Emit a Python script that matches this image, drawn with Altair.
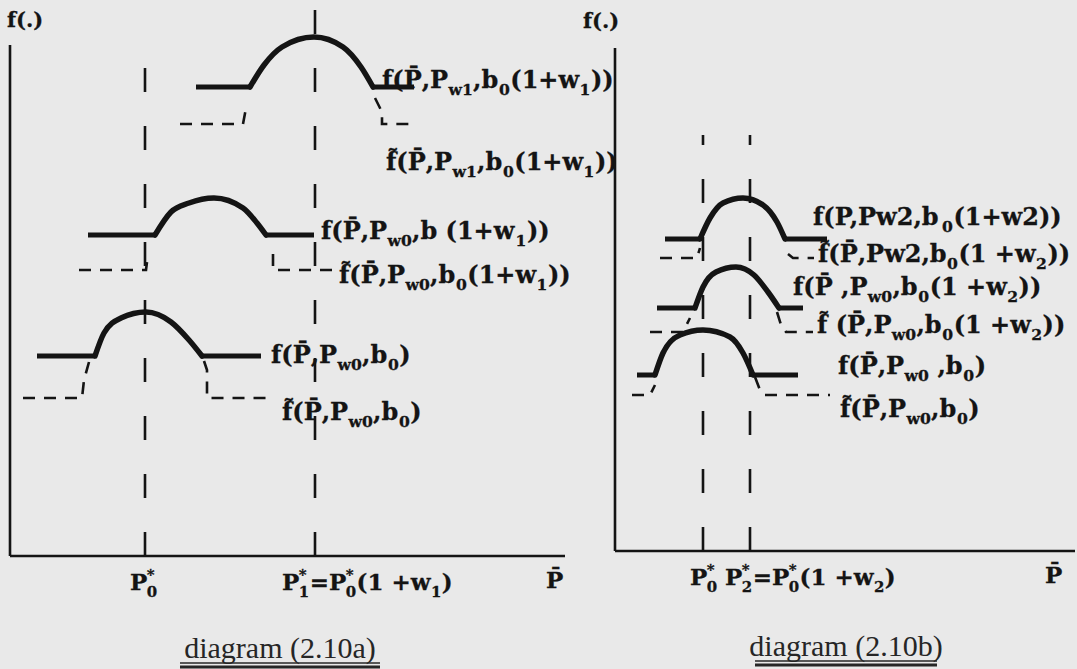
import unicodedata

import altair as alt
import pandas as pd

INK = "#141414"
BG = "#e9e9e9"
FACE = "'DejaVu Serif', serif"
SERIF = "'Liberation Serif', 'DejaVu Serif', serif"
PPU = 10.0          # pixels per data unit, both axes, both panels
LABEL_FS = 24
TICK_FS = 23
AXIS_NAME_FS = 21
CAPTION_FS = 30
HEIGHT = 669

# advance widths (em) of the bold serif face, used to place sub/superscripts
ADVANCE = {" ": 0.348, "(": 0.457, ")": 0.457, ",": 0.38, ".": 0.38,
           "*": 0.5, "+": 0.9, "=": 0.838, "P": 0.73, "b": 0.70,
           "f": 0.472, "w": 0.85}
DIGIT_ADVANCE = 0.68

# ---------------------------------------------------------------- panel (a)
A_WIDTH = 600
A_XDOM = [-1.0, 59.0]
A_YDOM = [-11.3, 55.6]
A_AXIS_END = [55.5, 51.1]                 # x-axis length, y-axis height
A_REF_X = [13.5, 30.5]                    # P0*, P1*
A_REF_TOP = [49.1, 54.9]

# humps: arch points, then where the flat shoulders start / stop
A_HUMP_X = [
    [24.0, 25.4, 27.2, 30.4, 33.3, 35.1, 36.3],
    [14.5, 16.1, 17.9, 20.4, 23.3, 24.7, 25.6],
    [8.5, 9.4, 11.1, 13.6, 16.1, 17.9, 19.2],
]
A_HUMP_Y = [
    [46.9, 49.1, 50.9, 51.9, 50.9, 48.9, 46.9],
    [32.1, 34.4, 35.3, 35.8, 34.8, 33.3, 32.1],
    [20.0, 22.3, 23.8, 24.4, 23.4, 21.6, 20.0],
]
A_FLAT_LEFT = [18.6, 7.8, 2.7]
A_FLAT_RIGHT = [40.4, 30.4, 25.1]

# dashed approximations underneath each hump
A_STEP_X = [
    [17.0, 23.3, 23.6],
    [36.5, 37.2, 37.2, 40.6],
    [6.9, 13.6, 13.8],
    [26.3, 26.3, 32.6],
    [1.3, 7.2, 7.4, 7.9],
    [19.4, 19.7, 19.7, 26.1],
]
A_STEP_Y = [
    [43.2, 43.2, 44.8],
    [45.8, 44.4, 43.2, 43.2],
    [28.6, 28.6, 30.2],
    [30.2, 28.6, 28.6],
    [15.8, 15.8, 17.6, 19.4],
    [19.5, 18.6, 15.8, 15.8],
]

A_LABELS = [
    "f(P\u0304,P_{w1},b_{0}(1+w_{1}))",
    "f\u0303(P\u0304,P_{w1},b_{0}(1+w_{1}))",
    "f(P\u0304,P_{w0},b (1+w_{1}))",
    "f\u0303(P\u0304,P_{w0},b_{0}(1+w_{1}))",
    "f(P\u0304,P_{w0},b_{0})",
    "f\u0303(P\u0304,P_{w0},b_{0})",
]
A_LABEL_X = [37.2, 37.6, 31.1, 32.9, 26.1, 27.2]
A_LABEL_Y = [46.8, 38.6, 31.7, 27.3, 19.3, 13.6]

A_TICKS = ["P^{*}_{0}", "P^{*}_{1}=P^{*}_{0}(1 +w_{1})", "P\u0304"]
A_TICK_X = [12.0, 27.2, 53.6]
A_TICK_Y = [-3.4, -3.4, -3.2]
A_AXIS_NAME_XY = [-0.3, 52.9]

A_CAPTION = "diagram (2.10a)"
A_CAPTION_XY = [27.0, -10.2]
A_UNDERLINE = [17.0, 37.0, -10.7, -11.1]

# ---------------------------------------------------------------- panel (b)
B_WIDTH = 477
B_XDOM = [-1.5, 46.2]
B_YDOM = [-11.8, 55.1]
B_AXIS_END = [46.0, 50.3]
B_REF_X = [8.8, 13.5]                     # P0*, P2*
B_REF_TOP = [41.6, 41.6]

B_HUMP_X = [
    [8.5, 9.5, 10.8, 12.8, 14.8, 16.2, 17.0],
    [8.0, 8.8, 10.1, 12.1, 13.9, 15.3, 16.4],
    [4.0, 4.8, 6.5, 8.8, 11.5, 12.8, 13.8],
]
B_HUMP_Y = [
    [31.2, 33.3, 34.8, 35.3, 34.6, 32.9, 31.2],
    [24.3, 26.4, 27.9, 28.4, 27.6, 25.9, 24.3],
    [17.6, 19.8, 21.6, 22.1, 21.4, 19.8, 17.6],
]
B_FLAT_LEFT = [5.0, 4.2, 2.2]
B_FLAT_RIGHT = [21.2, 18.8, 18.3]

B_STEP_X = [
    [4.5, 8.2, 8.5],
    [17.3, 17.8, 19.9],
    [3.5, 6.8, 7.5],
    [16.2, 16.6, 17.1, 19.8],
    [1.7, 3.5, 4.0],
    [14.0, 14.5, 15.0, 21.5],
]
B_STEP_Y = [
    [29.3, 29.3, 30.3],
    [29.7, 29.3, 29.3],
    [21.9, 21.9, 23.3],
    [23.9, 22.6, 21.9, 21.9],
    [15.6, 15.6, 16.6],
    [17.4, 16.1, 15.6, 15.6],
]

B_LABELS = [
    "f(P,Pw2,b_{0}(1+w2))",
    "f\u0303(P\u0304,Pw2,b_{0}(1 +w_{2}))",
    "f(P\u0304 ,P_{w0},b_{0}(1 +w_{2}))",
    "f\u0303 (P\u0304,P_{w0},b_{0}(1 +w_{2}))",
    "f(P\u0304,P_{w0} ,b_{0})",
    "f\u0303(P\u0304,P_{w0},b_{0})",
]
B_LABEL_X = [19.8, 20.3, 17.8, 20.2, 22.3, 22.5]
B_LABEL_Y = [32.6, 28.9, 25.6, 21.8, 17.7, 13.4]

B_TICKS = ["P^{*}_{0}", "P^{*}_{2}=P^{*}_{0}(1 +w_{2})", "P\u0304"]
B_TICK_X = [7.5, 11.0, 43.0]
B_TICK_Y = [-3.4, -3.4, -3.2]
B_AXIS_NAME_XY = [-3.2, 52.3]

B_CAPTION = "diagram (2.10b)"
B_CAPTION_XY = [23.1, -10.5]
B_UNDERLINE = [14.0, 32.2, -11.0, -11.4]


# ---------------------------------------------------------------- helpers
def text_width(s, fs):
    em = 0.0
    for c in s:
        if unicodedata.combining(c):
            continue
        em += DIGIT_ADVANCE if c.isdigit() else ADVANCE.get(c, 0.6)
    return em * fs


def typeset(markup, x0, y0, fs):
    """Split a label with _{sub} / ^{sup} groups into positioned text runs."""
    rows = []
    small = 0.65 * fs
    pen = 0.0

    def put(text, dx, dy, size):
        rows.append({"t": text, "x": x0 + dx / PPU, "y": y0 - dy / PPU, "s": size})

    i = 0
    while i < len(markup):
        c = markup[i]
        if c in "_^":
            groups = []
            while i < len(markup) and markup[i] in "_^" and len(groups) < 2:
                j = markup.index("}", i)
                groups.append((markup[i], markup[i + 2:j]))
                i = j + 1
            adv = 0.0
            for kind, txt in groups:
                dy = 0.30 * fs if kind == "_" else -0.42 * fs
                put(txt, pen, dy, small)
                adv = max(adv, text_width(txt, small))
            pen += adv + 0.03 * fs
        else:
            j = i
            while j < len(markup) and markup[j] not in "_^":
                j += 1
            run = markup[i:j]
            stripped = run.lstrip(" ")
            pen += text_width(run[:len(run) - len(stripped)], fs)
            core = stripped.rstrip(" ")
            if core:
                put(core, pen, 0.0, fs)
            pen += text_width(stripped, fs)
            i = j
    return rows


def panel(width, xdom, ydom, axis_end, ref_x, ref_top, hump_x, hump_y,
          flat_l, flat_r, step_x, step_y, labels, lab_x, lab_y,
          ticks, tick_x, tick_y, axis_name_xy, caption, cap_xy, underline):
    xs = alt.Scale(domain=xdom, nice=False, zero=False)
    ys = alt.Scale(domain=ydom, nice=False, zero=False)

    def X(f):
        return alt.X(f, type="quantitative", scale=xs, axis=None)

    def Y(f):
        return alt.Y(f, type="quantitative", scale=ys, axis=None)

    axes = pd.DataFrame({
        "x": [0.0, 0.0], "x2": [0.0, axis_end[0]],
        "y": [0.0, 0.0], "y2": [axis_end[1], 0.0],
    })
    axis_layer = alt.Chart(axes).mark_rule(color=INK, strokeWidth=2.6).encode(
        x=X("x"), x2="x2:Q", y=Y("y"), y2="y2:Q")

    refs = pd.DataFrame({"x": ref_x, "y": [0.0] * len(ref_x), "y2": ref_top})
    ref_layer = alt.Chart(refs).mark_rule(
        color=INK, strokeWidth=2.6, strokeDash=[24, 34]).encode(
        x=X("x"), y=Y("y"), y2="y2:Q")

    arch_rows, flat_rows = [], []
    for h, (hx, hy) in enumerate(zip(hump_x, hump_y)):
        for i, (a, b) in enumerate(zip(hx, hy)):
            arch_rows.append({"g": h, "i": i, "x": a, "y": b})
        flat_rows += [
            {"g": f"{h}l", "i": 0, "x": flat_l[h], "y": hy[0]},
            {"g": f"{h}l", "i": 1, "x": hx[0], "y": hy[0]},
            {"g": f"{h}r", "i": 0, "x": hx[-1], "y": hy[-1]},
            {"g": f"{h}r", "i": 1, "x": flat_r[h], "y": hy[-1]},
        ]
    arch_layer = alt.Chart(pd.DataFrame(arch_rows)).mark_line(
        color=INK, strokeWidth=5.5, interpolate="monotone", strokeCap="round").encode(
        x=X("x"), y=Y("y"), detail="g:N", order="i:Q")
    flat_layer = alt.Chart(pd.DataFrame(flat_rows)).mark_line(
        color=INK, strokeWidth=5, strokeCap="butt").encode(
        x=X("x"), y=Y("y"), detail="g:N", order="i:Q")

    step_rows = []
    for s, (sx, sy) in enumerate(zip(step_x, step_y)):
        for i, (a, b) in enumerate(zip(sx, sy)):
            step_rows.append({"g": s, "i": i, "x": a, "y": b})
    step_layer = alt.Chart(pd.DataFrame(step_rows)).mark_line(
        color=INK, strokeWidth=2.6, strokeDash=[12, 9]).encode(
        x=X("x"), y=Y("y"), detail="g:N", order="i:Q")

    text_rows = []
    for m, a, b in zip(labels, lab_x, lab_y):
        text_rows += typeset(m, a, b, LABEL_FS)
    for m, a, b in zip(ticks, tick_x, tick_y):
        text_rows += typeset(m, a, b, TICK_FS)
    text_rows += typeset("f(.)", axis_name_xy[0], axis_name_xy[1], AXIS_NAME_FS)
    text_layer = alt.Chart(pd.DataFrame(text_rows)).mark_text(
        align="left", baseline="alphabetic", font=FACE, fontWeight="bold",
        color=INK, stroke=INK, strokeWidth=0.3).encode(
        x=X("x"), y=Y("y"), text="t:N", size=alt.Size("s:Q", scale=None))

    cap = pd.DataFrame({"t": [caption], "x": [cap_xy[0]], "y": [cap_xy[1]]})
    cap_layer = alt.Chart(cap).mark_text(
        align="center", baseline="alphabetic", font=SERIF,
        fontSize=CAPTION_FS, color="#262626").encode(
        x=X("x"), y=Y("y"), text="t:N")

    ul = pd.DataFrame({
        "x": [underline[0]] * 2, "x2": [underline[1]] * 2,
        "y": [underline[2], underline[3]], "w": [1.6, 3.2],
    })
    ul_layer = alt.Chart(ul).mark_rule(color="#262626").encode(
        x=X("x"), x2="x2:Q", y=Y("y"),
        strokeWidth=alt.StrokeWidth("w:Q", scale=None))

    return alt.layer(
        axis_layer, ref_layer, step_layer, flat_layer, arch_layer,
        text_layer, cap_layer, ul_layer,
    ).properties(width=width, height=HEIGHT)


left = panel(A_WIDTH, A_XDOM, A_YDOM, A_AXIS_END, A_REF_X, A_REF_TOP,
             A_HUMP_X, A_HUMP_Y, A_FLAT_LEFT, A_FLAT_RIGHT, A_STEP_X, A_STEP_Y,
             A_LABELS, A_LABEL_X, A_LABEL_Y, A_TICKS, A_TICK_X, A_TICK_Y,
             A_AXIS_NAME_XY, A_CAPTION, A_CAPTION_XY, A_UNDERLINE)
right = panel(B_WIDTH, B_XDOM, B_YDOM, B_AXIS_END, B_REF_X, B_REF_TOP,
              B_HUMP_X, B_HUMP_Y, B_FLAT_LEFT, B_FLAT_RIGHT, B_STEP_X, B_STEP_Y,
              B_LABELS, B_LABEL_X, B_LABEL_Y, B_TICKS, B_TICK_X, B_TICK_Y,
              B_AXIS_NAME_XY, B_CAPTION, B_CAPTION_XY, B_UNDERLINE)

chart = alt.hconcat(left, right, spacing=0, bounds="flush").properties(
    padding=0,
    background=BG,
).configure_view(stroke=None)

chart.save("out.html", embed_options={"renderer": "svg", "actions": False})
